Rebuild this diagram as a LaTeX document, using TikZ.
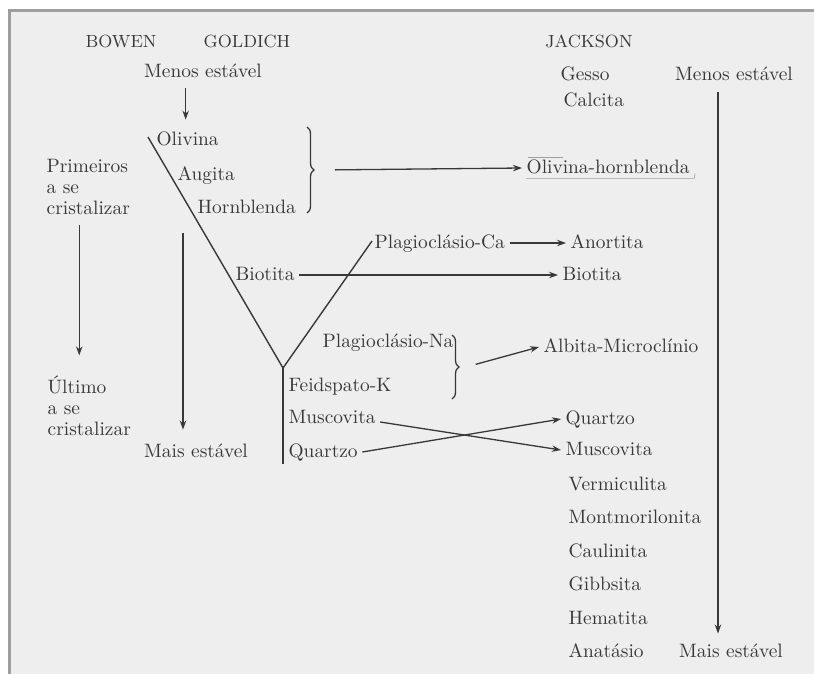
\documentclass[tikz,border=0pt]{standalone}
\usepackage{tikz}
\usetikzlibrary{arrows.meta, decorations.pathreplacing}
\definecolor{ink}{gray}{0.22}
\definecolor{paper}{gray}{0.935}
\definecolor{edge}{gray}{0.62}

\begin{document}
\begin{tikzpicture}[x=0.5pt, y=-0.5pt, line width=0.65pt,
    every node/.style={inner sep=2pt, text=ink, text height=1.5ex, text depth=0.3ex,
      font=\fontsize{9.7}{10.5}\selectfont},
    head/.style={font=\fontsize{8.8}{10}\selectfont},
    lbl/.style={anchor=west},
    block/.style={anchor=west, align=left, text height={}, text depth={}},
    arr/.style={->, draw=ink},
    >={Stealth[length=4.5pt, width=3.2pt]},
    curly/.style={draw=ink, decorate, decoration={brace, amplitude=3.5pt}}]
  \useasboundingbox (0,0) rectangle (814,674);
  \fill[paper] (8,10) rectangle (814,674);
  \draw[edge, line width=1.5pt] (9,674) -- (9,11) -- (814,11);

  % headings
  \node[head] (bowen) at (121,42) {BOWEN};
  \node[head] (goldich) at (247,42) {GOLDICH};
  \node[head] (jackson) at (589,42) {JACKSON};

  % Bowen
  \node[block] (primeiros) at (42,187) {Primeiros\\a se\\cristalizar};
  \node[block] (ultimo) at (43,406) {Último\\a se\\cristalizar};
  \draw[arr, shorten <=3pt, shorten >=8pt] ([xshift=-4.5pt]primeiros.south) -- ([xshift=-4.5pt]primeiros.south |- ultimo.north);

  % Goldich
  \node (menosL) at (203,72) {Menos estável};
  \node[lbl] (olivina) at (152,140) {Olivina};
  \node[lbl] (augita) at (173,175) {Augita};
  \node[lbl] (hornblenda) at (193,208) {Hornblenda};
  \node[lbl] (biotitaL) at (231,275) {Biotita};
  \node[lbl] (plagca) at (370,243) {Plagioclásio-Ca};
  \node[lbl] (plagna) at (318,342) {Plagioclásio-Na};
  \node[lbl] (feidspato) at (284,386) {Feidspato-K};
  \node[lbl] (muscovitaL) at (284,418) {Muscovita};
  \node[lbl] (quartzoL) at (284,452) {Quartzo};
  \node (maisL) at (196,452) {Mais estável};

  \draw[arr, shorten <=2pt, shorten >=4pt] ([xshift=-1pt]olivina.north |- menosL.south) -- ([xshift=-1pt]olivina.north);
  \coordinate (vtop) at (148,137);
  \coordinate (vjoin) at (283,368);
  \draw[draw=ink, line width=0.7pt] (vtop) -- (vjoin) -- ([xshift=1pt, yshift=1pt]plagca.west);
  \draw[draw=ink, line width=0.7pt] (vjoin) -- (vjoin |- quartzoL.south);
  \coordinate (mstart) at (183,233);
  \draw[arr, shorten >=5pt] (mstart) -- (mstart |- maisL.north);

  % braces
  \draw[curly] (307,127) -- (307,213) coordinate[midway, xshift=7pt] (brace1);
  \draw[curly] (452,335) -- (452,399) coordinate[midway, xshift=7pt] (brace2);

  % Jackson
  \node[lbl] (gesso) at (556,75) {Gesso};
  \node[lbl] (calcita) at (559,101) {Calcita};
  \node[lbl] (olivhorn) at (522,168) {Olivina-hornblenda};
  \node[lbl] (anortita) at (566,243) {Anortita};
  \node[lbl] (biotitaR) at (558,275) {Biotita};
  \node[lbl] (albita) at (539,347) {Albita-Microclínio};
  \node[lbl] (quartzoR) at (561,419) {Quartzo};
  \node[lbl] (muscovitaR) at (561,450) {Muscovita};
  \foreach [count=\n] \m in {Vermiculita, Montmorilonita, Caulinita, Gibbsita, Hematita, Anatásio} {
    \pgfmathsetmacro{\yy}{485 + 33.5 * (\n - 1)}
    \node[lbl] (bottom\n) at (564,\yy) {\m};
  }
  \node (menosR) at (734,75) {Menos estável};
  \node (maisR) at (731,652) {Mais estável};
  \coordinate (jline) at (718,92);
  \draw[arr, shorten >=3pt] (jline) -- (jline |- maisR.north);

  % pencil marks on Olivina-hornblenda
  \draw[draw=edge, line width=0.3pt] ([xshift=2pt, yshift=1pt]olivhorn.south west) -- ([yshift=1pt]olivhorn.south east) -- ++(1,-5);
  \draw[draw=edge, line width=0.3pt] ([xshift=3pt, yshift=-1pt]olivhorn.north west) -- ++(35,0);

  % connectors
  \draw[arr, shorten <=7pt] (brace1) -- (olivhorn.west);
  \draw[arr] (plagca.east) -- (anortita.west);
  \draw[arr] (biotitaL.east) -- (biotitaR.west);
  \draw[arr, shorten <=5pt] (brace2) -- (albita.west);
  \draw[arr] ([yshift=-2pt]muscovitaL.east) -- (muscovitaR.west);
  \draw[arr] (quartzoL.east) -- (quartzoR.west);
\end{tikzpicture}
\end{document}
